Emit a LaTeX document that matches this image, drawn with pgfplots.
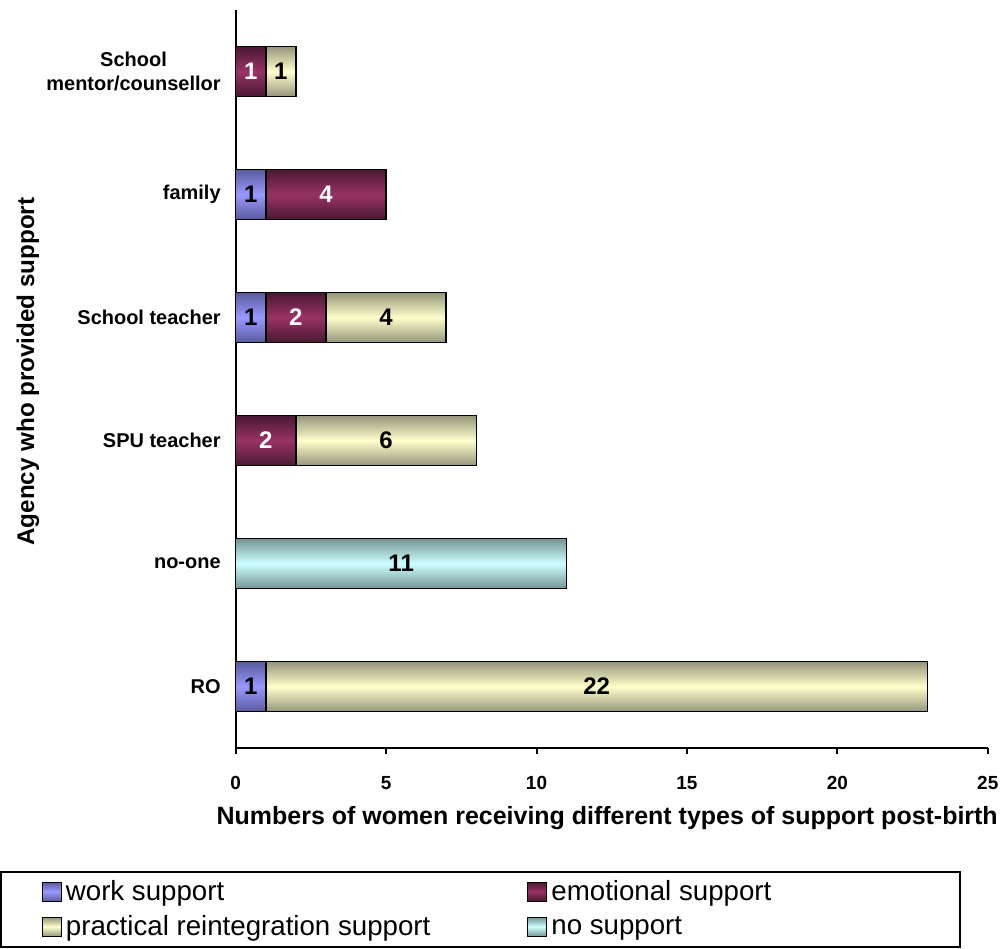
\documentclass[border=0pt]{standalone}
\usepackage{pgfplots}
\pgfplotsset{compat=1.18}
\usepackage{pgfplotstable}
\usepackage{fontspec}
\setmainfont{Liberation Sans}

\definecolor{workC}{HTML}{9999FF}
\definecolor{workD}{HTML}{5A5A9E}
\definecolor{emoC}{HTML}{993366}
\definecolor{emoD}{HTML}{4A1830}
\definecolor{pracC}{HTML}{FFFFCC}
\definecolor{pracD}{HTML}{95957A}
\definecolor{noneC}{HTML}{CCFFFF}
\definecolor{noneD}{HTML}{759595}

% one table per type of support: agency row, where the segment starts, its count
% rows: 0 RO, 1 no-one, 2 SPU teacher, 3 School teacher, 4 family, 5 School mentor/counsellor
\pgfplotstableread{
pos start len
0   0     1
3   0     1
4   0     1
}\work
\pgfplotstableread{
pos start len
2   0     2
3   1     2
4   1     4
5   0     1
}\emotional
\pgfplotstableread{
pos start len
0   1     22
2   2     6
3   3     4
5   1     1
}\practical
\pgfplotstableread{
pos start len
1   0     11
}\nosupport

% an empty plot mark: the segment box is drawn by the scatter code alone
\pgfdeclareplotmark{blank}{}

% each segment is drawn as its own shaded box, ending at start+len
\pgfplotsset{
  segbar/.style n args={3}{% #1 edge colour, #2 middle colour, #3 label colour
    scatter, only marks, mark=blank, forget plot,
    visualization depends on={\thisrow{len} \as \seglen},
    scatter/@pre marker code/.code={%
      \path[draw=black, line width=0.8pt, top color=#1, bottom color=#1, middle color=#2]
        (axis direction cs:-\seglen,0) ++(0pt,-12.5pt) rectangle (0pt,12.5pt);
      \node[text=#3, font=\bfseries\fontsize{12}{14}\selectfont, inner sep=0pt]
        at (axis direction cs:-\seglen/2,0) {\pgfmathprintnumber{\seglen}};
    },
    scatter/@post marker code/.code={},
  },
}

\begin{document}
\begin{tikzpicture}
\begin{axis}[
  scale only axis,
  width=376.5pt, height=369.5pt,
  xmin=0, xmax=25,
  ymin=-0.5, ymax=5.5,
  axis x line*=bottom,
  axis y line*=left,
  axis line style={line width=1pt},
  xtick={0,5,...,25},
  xtick align=outside,
  major tick length=3pt,
  xtick style={line width=1pt, black},
  ytick={0,...,5},
  yticklabels={RO,no-one,SPU teacher,School teacher,family,{School\\mentor/counsellor}},
  ytick style={draw=none},
  yticklabel style={font=\bfseries\fontsize{10}{12}\selectfont, align=center, xshift=-4pt},
  xticklabel style={font=\bfseries\fontsize{9.5}{11}\selectfont, yshift=-7.5pt},
  /pgf/number format/assume math mode=true,
  xlabel={Numbers of women receiving different types of support post-birth},
  ylabel={Agency who provided support},
  xlabel style={font=\bfseries\fontsize{12.5}{14}\selectfont, at={(axis description cs:0.494,-0.0947)}, anchor=center},
  ylabel style={font=\bfseries\fontsize{12.1}{14}\selectfont, at={(axis description cs:-0.2762,0.51)}, anchor=center},
  legend columns=2,
  legend style={at={(-0.3134,-0.1664)}, anchor=north west, draw=black, line width=0.8pt,
    font=\fontsize{13.85}{16}\selectfont, inner xsep=20.5pt, inner ysep=2.25pt, row sep=2pt,
    cells={anchor=west}, /tikz/every even column/.append style={column sep=46.5pt}},
  legend image code/.code={\draw[#1, draw=black, line width=0.6pt] (0pt,-4.75pt) rectangle (9.5pt,4.75pt);},
]
\addplot[segbar={workD}{workC}{black}]  table[x expr=\thisrow{start}+\thisrow{len}, y=pos] {\work};
\addplot[segbar={emoD}{emoC}{white}]    table[x expr=\thisrow{start}+\thisrow{len}, y=pos] {\emotional};
\addplot[segbar={pracD}{pracC}{black}]  table[x expr=\thisrow{start}+\thisrow{len}, y=pos] {\practical};
\addplot[segbar={noneD}{noneC}{black}]  table[x expr=\thisrow{start}+\thisrow{len}, y=pos] {\nosupport};

\addlegendimage{top color=workD, bottom color=workD, middle color=workC}
\addlegendentry{work support}
\addlegendimage{top color=emoD, bottom color=emoD, middle color=emoC}
\addlegendentry{\makebox[182pt][l]{emotional support}}
\addlegendimage{top color=pracD, bottom color=pracD, middle color=pracC}
\addlegendentry{practical reintegration support}
\addlegendimage{top color=noneD, bottom color=noneD, middle color=noneC}
\addlegendentry{no support}
\end{axis}
\path (current bounding box.north) ++(0,4.5pt);
\path (current bounding box.south) ++(0,-0.5pt);
\end{tikzpicture}
\end{document}
